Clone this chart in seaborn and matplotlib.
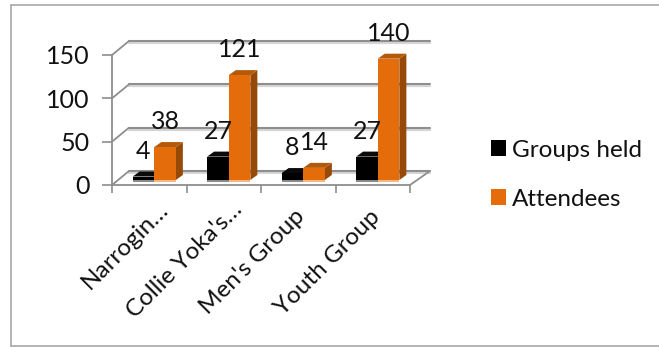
import matplotlib
matplotlib.use("Agg")
import matplotlib.pyplot as plt
import numpy as np
import pandas as pd
import seaborn as sns
from matplotlib.lines import Line2D
from matplotlib.patches import ConnectionPatch, Polygon
from matplotlib.transforms import IdentityTransform, ScaledTranslation

categories = ["Narrogin…", "Collie Yoka's…", "Men's Group", "Youth Group"]
groups_held = [4, 27, 8, 27]
attendees = [38, 121, 14, 140]
y_ticks = [0, 50, 100, 150]

ORANGE = "#E46C0A"
GREY = "#8E8E8E"
W, H, DPI = 659, 347, 100

sns.set_theme(style="white")
plt.rcParams["font.family"] = ["Lato", "DejaVu Sans"]
plt.rcParams["text.color"] = "#111111"

data = pd.DataFrame({
    "category": categories * 2,
    "series": ["Groups held"] * 4 + ["Attendees"] * 4,
    "value": groups_held + attendees,
})

fig = plt.figure(figsize=(W / DPI, H / DPI), dpi=DPI, facecolor="white")


def plane(left, right, bottom, top, zorder):
    """Axes placed by pixel edges, all sharing the same value scale."""
    ax = fig.add_axes([left / W, 1 - bottom / H, (right - left) / W, (bottom - top) / H],
                      zorder=zorder)
    ax.set_xlim(-0.5, 3.5)
    ax.set_ylim(0, 150)
    ax.patch.set_alpha(0)
    return ax


# Three planes give the pseudo-3D box: back wall, front edge, and the bars between.
back = plane(129, 430, 171, 41, 0)
front = plane(112, 410, 185, 55, 1)
main = plane(117, 415, 180, 50, 2)

# Back wall: a light shadow under each gridline, then the line itself
back.set_yticks(y_ticks)
back.set_xticks([])
for v in y_ticks:
    back.axhline(v, color=GREY, lw=1.5, clip_on=False, zorder=2)
    back.plot([-0.5, 3.5], [v - 2.2, v - 2.2], color="#D6D6D6", lw=1.6,
              clip_on=False, zorder=1)
back.tick_params(left=False, labelleft=False)
sns.despine(ax=back, left=True, bottom=True)

# Floor surface between the back wall and the front edge
floor_px = np.vstack([front.transData.transform([(-0.5, 0), (3.5, 0)]),
                      back.transData.transform([(3.5, 0), (-0.5, 0)])])
back.add_patch(Polygon(floor_px + [[0, 0], [0, 0], [0, -3], [0, -3]],
                       transform=IdentityTransform(), facecolor="white",
                       edgecolor="none", zorder=1.5, clip_on=False))

# Front plane carries the axes, ticks and tick labels
front.set_yticks(y_ticks)
front.set_xticks(range(len(categories)))
front.set_xticklabels(categories)
front.set_xticks(np.arange(-0.5, 4), minor=True)
front.tick_params(axis="y", which="major", length=7, width=1.2, color=GREY,
                  labelsize=18, pad=9, left=True, labelcolor="#111111")
front.tick_params(axis="x", which="major", length=0, labelsize=17.5, pad=15,
                  labelcolor="#111111")
front.tick_params(axis="x", which="minor", length=6, width=1.2, color=GREY, bottom=True)
for label in front.get_xticklabels():
    label.set_rotation(45)
    label.set_ha("right")
    label.set_va("top")
    label.set_rotation_mode("anchor")
    # Truncated names sit further along the slant than the complete ones
    truncated = label.get_text().endswith("…")
    shift = (8, 7) if truncated else (-4, 0)
    label.set_transform(label.get_transform()
                        + ScaledTranslation(shift[0] / DPI, shift[1] / DPI, fig.dpi_scale_trans))
sns.despine(ax=front)
for side in ("left", "bottom"):
    front.spines[side].set_color(GREY)
    front.spines[side].set_linewidth(1.3)

# Connectors running from the front plane back to the wall
for v in y_ticks:
    fig.add_artist(ConnectionPatch(xyA=(-0.5, v), coordsA=front.transData,
                                   xyB=(-0.5, v), coordsB=back.transData,
                                   color=GREY, lw=1.3, zorder=0.5))
fig.add_artist(ConnectionPatch(xyA=(3.5, 0), coordsA=front.transData,
                               xyB=(3.5, 0), coordsB=back.transData,
                               color=GREY, lw=1.3, zorder=0.5))

# Bars
sns.barplot(data=data, x="category", y="value", hue="series",
            palette=["#000000", ORANGE], width=0.58, gap=0, saturation=1,
            linewidth=0, legend=True, ax=main)
main.set_xlim(-0.5, 3.5)
main.set_ylim(0, 150)
main.set(xlabel="", ylabel="", xticks=[], yticks=[])
sns.despine(ax=main, left=True, bottom=True)

# Extrude each bar with a side face and a top face, kept behind the front faces,
# and add a faint reflection on the floor just below it
DEPTH = np.array([7.0, 5.0])
REFLECT = np.array([0.0, -2.0])
shades = [("#000000", "#0A0A0A", "#8A8A8A"), ("#974A08", "#B35A0A", "#F3B787")]
for container, (side_col, top_col, floor_col) in zip(main.containers, shades):
    for bar in container:
        bar.set_zorder(3)
        x, w, h = bar.get_x(), bar.get_width(), bar.get_height()
        a, b, c = main.transData.transform([(x, h), (x + w, h), (x + w, 0)])
        d = main.transData.transform((x, 0))
        main.add_patch(Polygon([b, c, c + DEPTH, b + DEPTH], transform=IdentityTransform(),
                               facecolor=side_col, edgecolor="none", clip_on=False, zorder=2))
        main.add_patch(Polygon([a, b, b + DEPTH, a + DEPTH], transform=IdentityTransform(),
                               facecolor=top_col, edgecolor="none", clip_on=False, zorder=2))
        main.add_patch(Polygon([d, c, c + REFLECT, d + REFLECT], transform=IdentityTransform(),
                               facecolor=floor_col, edgecolor="none", clip_on=False, zorder=2))
    main.bar_label(container, padding=10, fontsize=18, color="#111111")

# Legend to the right of the box
handles, labels = main.get_legend_handles_labels()
main.legend(handles, labels, loc="upper left", bbox_to_anchor=(491 / W, 1 - 140 / H),
            bbox_transform=fig.transFigure, frameon=False, fontsize=17.5, labelcolor="#111111",
            borderpad=0, borderaxespad=0, handlelength=0.63, handleheight=0.63,
            handletextpad=0.25, labelspacing=1.15)

# Frame around the chart, open on the right
for xs, ys in [((10.5, 10.5), (5, 346)), ((10.5, W), (5, 5)), ((10.5, W), (346, 346))]:
    fig.add_artist(Line2D([x / W for x in xs], [1 - y / H for y in ys],
                          color="#A0A0A0", lw=1.1, transform=fig.transFigure))

fig.savefig("out.png", dpi=DPI)
